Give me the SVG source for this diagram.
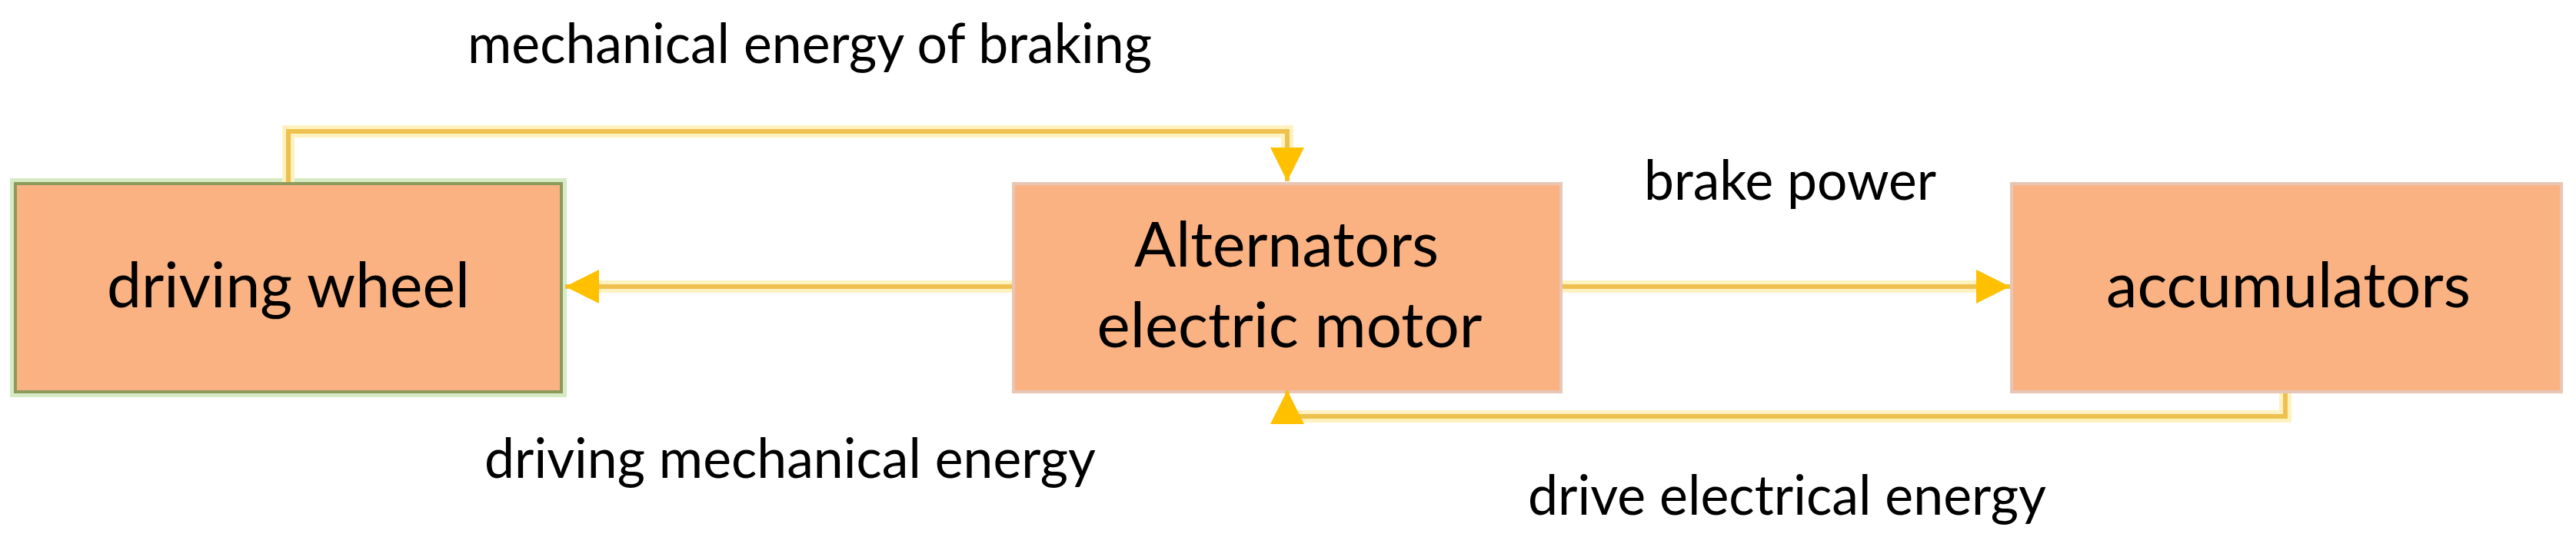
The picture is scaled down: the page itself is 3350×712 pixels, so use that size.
<svg xmlns="http://www.w3.org/2000/svg" width="3350" height="712" viewBox="0 0 3350 712">
<defs>
<style>
.box{fill:#FAB283;stroke:#E8C6B6;stroke-width:4}
.boxg{fill:#FAB283;stroke:#8C9A5C;stroke-width:4}
.halo{fill:none;stroke:#FFF2C0;stroke-width:16;stroke-linejoin:miter}
.halog{fill:none;stroke:#D6EBC4;stroke-width:10}
.ln{fill:none;stroke:#EEC14F;stroke-width:6;stroke-linejoin:miter}
.t{font-family:Lato,"Open Sans","DejaVu Sans",sans-serif;font-size:82px;fill:#000;text-anchor:middle}
.lb{font-family:Lato,"Open Sans","DejaVu Sans",sans-serif;font-size:72px;fill:#000}
</style>
<marker id="ah" markerUnits="userSpaceOnUse" markerWidth="44" markerHeight="44" viewBox="0 0 40 40" refX="40" refY="20" orient="auto">
<polygon points="0,0 40,20 0,40" fill="#FFC000"/>
</marker>
</defs>
<rect width="3350" height="712" fill="#FFFFFF"/>
<g id="node-driving-wheel">
<rect x="18" y="237" width="714" height="275" fill="none" class="halog"/>
<rect x="20" y="239" width="710" height="271" class="boxg"/>
<text class="t" x="375" y="400" textLength="472" lengthAdjust="spacingAndGlyphs">driving wheel</text>
</g>
<g id="node-alternator">
<rect x="1318" y="239" width="712" height="271" class="box"/>
<text class="t" x="1673" y="347" textLength="396" lengthAdjust="spacingAndGlyphs">Alternators</text>
<text class="t" x="1677" y="452" textLength="501" lengthAdjust="spacingAndGlyphs">electric motor</text>
</g>
<g id="node-accumulators">
<rect x="2616" y="239" width="715" height="271" class="box"/>
<text class="t" x="2976" y="400" textLength="474" lengthAdjust="spacingAndGlyphs">accumulators</text>
</g>
<g id="connectors">
<path class="halo" d="M375,237 V171 H1674 V200"/>
<path class="halo" d="M1316,373 H770"/>
<path class="halo" d="M2032,373 H2580"/>
<path class="halo" d="M2972,512 V542 H1674 V550"/>
<path class="ln" d="M375,237 V171 H1674 V236" marker-end="url(#ah)"/>
<path class="ln" d="M1316,373 H735" marker-end="url(#ah)"/>
<path class="ln" d="M2032,373 H2614" marker-end="url(#ah)"/>
<path class="ln" d="M2972,512 V542 H1674 V508" marker-end="url(#ah)"/>
</g>
<g id="labels">
<text class="lb" x="608" y="82" textLength="890" lengthAdjust="spacingAndGlyphs">mechanical energy of braking</text>
<text class="lb" x="2138" y="260" textLength="380" lengthAdjust="spacingAndGlyphs">brake power</text>
<text class="lb" x="630" y="622" textLength="795" lengthAdjust="spacingAndGlyphs">driving mechanical energy</text>
<text class="lb" x="1987" y="670" textLength="674" lengthAdjust="spacingAndGlyphs">drive electrical energy</text>
</g>
</svg>
